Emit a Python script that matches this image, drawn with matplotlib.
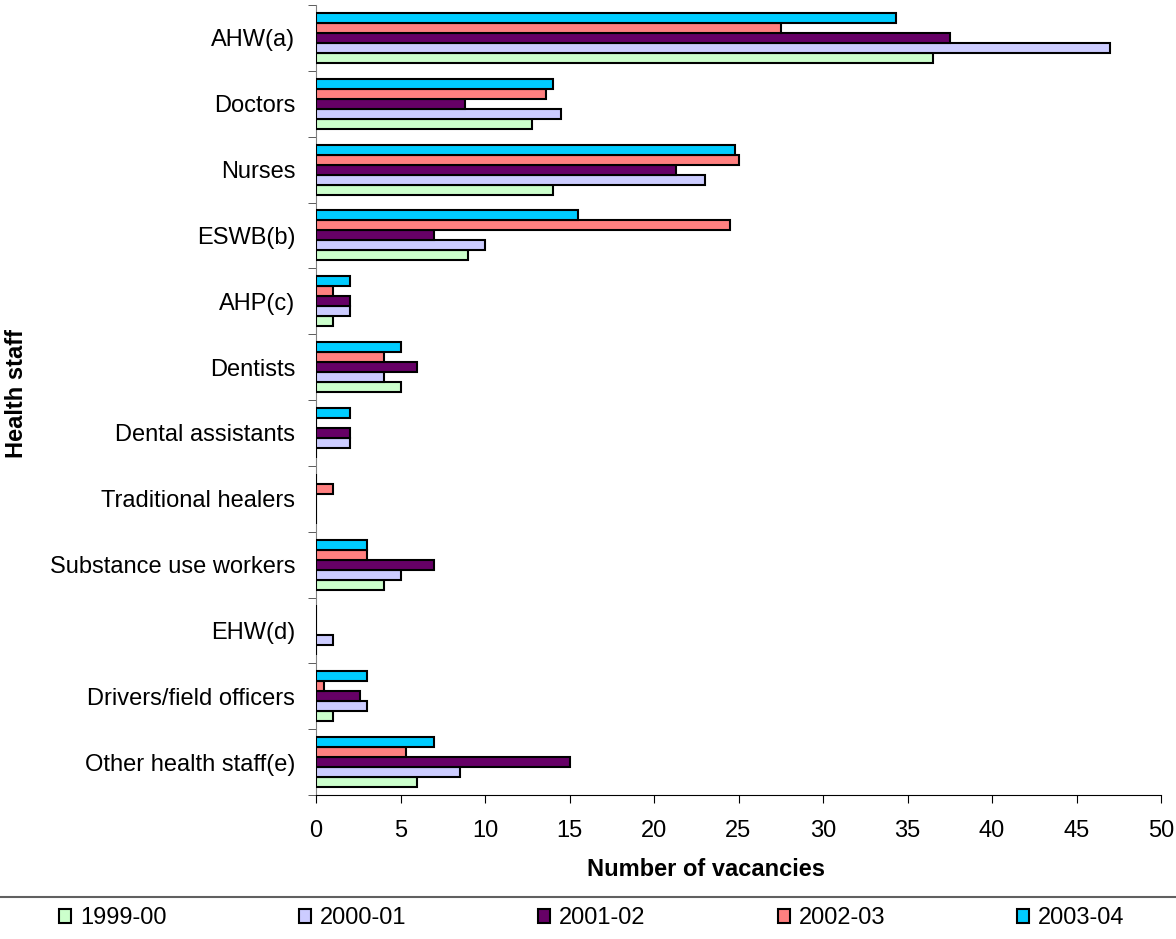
import numpy as np
import matplotlib
matplotlib.use('Agg')
import matplotlib.pyplot as plt
from matplotlib.lines import Line2D

plt.rcParams['font.family'] = ['Liberation Sans', 'DejaVu Sans']

categories = ['AHW(a)', 'Doctors', 'Nurses', 'ESWB(b)', 'AHP(c)', 'Dentists',
              'Dental assistants', 'Traditional healers', 'Substance use workers',
              'EHW(d)', 'Drivers/field officers', 'Other health staff(e)']
years = ['1999-00', '2000-01', '2001-02', '2002-03', '2003-04']
colors = ['#CCFFCC', '#CCCCFF', '#660066', '#FF8080', '#00CCFF']

v1999 = [36.5, 12.8, 14.0, 9.0, 1, 5, 0, 0, 4, 0, 1, 6]
v2000 = [47.0, 14.5, 23.0, 10.0, 2, 4, 2, 0, 5, 1, 3, 8.5]
v2001 = [37.5, 8.8, 21.3, 7.0, 2, 6, 2, 0, 7, 0, 2.6, 15]
v2002 = [27.5, 13.6, 25.0, 24.5, 1, 4, 0, 1, 3, 0, 0.5, 5.3]
v2003 = [34.3, 14.0, 24.8, 15.5, 2, 5, 2, 0, 3, 0, 3, 7]
series = [v1999, v2000, v2001, v2002, v2003]

fs = 17
W, H = 1176, 939

fig = plt.figure(figsize=(W / 100, H / 100), dpi=100)
ax = fig.add_axes([316 / W, 1 - 795 / H, (1161 - 316) / W, 790 / H])

y = np.arange(len(categories))
h = 0.152
for k, (vals, c, lab) in enumerate(zip(series, colors, years)):
    ax.barh(y + (2 - k) * h, vals, height=h, color=c, edgecolor='black',
            linewidth=1.5, label=lab, zorder=3)

ax.set_xlim(0, 50)
ax.set_ylim(len(categories) - 0.5, -0.5)
ax.set_xticks(np.arange(0, 51, 5))
ax.set_yticks(y)
ax.set_yticklabels(categories)
ax.set_yticks(np.arange(-0.5, len(categories)), minor=True)
ax.tick_params(axis='y', which='major', length=0, pad=15, labelsize=fs)
ax.tick_params(axis='y', which='minor', length=6, color='#404040', direction='out')
ax.tick_params(axis='x', length=6, labelsize=fs, pad=12, color='black')
for s in ['top', 'right']:
    ax.spines[s].set_visible(False)
ax.spines['left'].set_color('#808080')
ax.spines['bottom'].set_color('black')

fig.text(706 / W, 1 - 870 / H, 'Number of vacancies', fontsize=fs,
         fontweight='bold', ha='center', va='center')
fig.text(17 / W, 1 - 393 / H, 'Health staff', rotation=90, fontsize=fs,
         fontweight='bold', ha='center', va='center')

# separator above the legend
fig.add_artist(Line2D([0, 1], [1 - 897 / H] * 2, color='#606060', linewidth=1.5))

fig.legend(loc='center', bbox_to_anchor=(592 / W, 1 - 918 / H), ncol=5,
           frameon=False, fontsize=fs, handlelength=0.5, handleheight=0.55,
           handletextpad=0.38, columnspacing=5.6)

fig.savefig('out.png', dpi=100)
